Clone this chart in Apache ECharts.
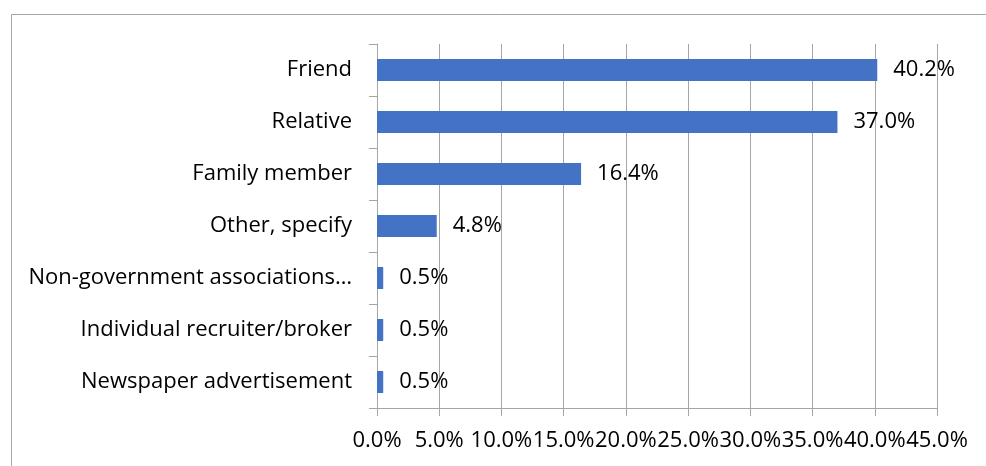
<!DOCTYPE html>
<html>
<head>
<meta charset="utf-8">
<script src="https://cdn.jsdelivr.net/npm/echarts@6/dist/echarts.min.js"></script>
<style>
html, body { margin: 0; padding: 0; background: #fff; }
#main { width: 986px; height: 466px; }
</style>
</head>
<body>
<div id="main"></div>
<script>
// sources of job information, share of respondents (%)
var categories = [
	'Friend',
	'Relative',
	'Family member',
	'Other, specify',
	'Non-government associations…',
	'Individual recruiter/broker',
	'Newspaper advertisement'
];
var shares = [40.2, 37.0, 16.4, 4.8, 0.5, 0.5, 0.5];
var tickMin = 0, tickMax = 45, tickStep = 5;

var FONT = '"Open Sans", sans-serif';
var GRID_GRAY = '#a6a6a6';

var myChart = echarts.init(document.getElementById('main'));
var option = {
	animation: false,
	textStyle: { fontFamily: FONT },
	graphic: [{
		type: 'rect',
		shape: { x: 11.5, y: 14.5, width: 1200, height: 800 },
		style: { fill: 'none', stroke: GRID_GRAY, lineWidth: 1 },
		silent: true
	}],
	grid: { left: 377, right: 49, top: 44, bottom: 58, containLabel: false },
	xAxis: {
		type: 'value',
		min: tickMin,
		max: tickMax,
		interval: tickStep,
		axisLine: { show: true, lineStyle: { color: GRID_GRAY } },
		axisTick: { show: true, length: 8, lineStyle: { color: GRID_GRAY } },
		splitLine: { show: true, lineStyle: { color: GRID_GRAY } },
		axisLabel: {
			margin: 22,
			fontSize: 22,
			color: '#000',
			fontFamily: FONT,
			hideOverlap: false,
			formatter: function (v) { return v.toFixed(1) + '%'; }
		}
	},
	yAxis: {
		type: 'category',
		inverse: true,
		data: categories,
		axisLine: { show: true, lineStyle: { color: GRID_GRAY } },
		axisTick: { show: true, length: 8, lineStyle: { color: GRID_GRAY } },
		axisLabel: { margin: 25, fontSize: 22, color: '#000', fontFamily: FONT }
	},
	series: [{
		type: 'bar',
		data: shares,
		barWidth: 22,
		itemStyle: { color: '#4472c4' },
		label: {
			show: true,
			position: 'right',
			distance: 16,
			fontSize: 22,
			color: '#000',
			fontFamily: FONT,
			formatter: function (p) { return p.value.toFixed(1) + '%'; }
		}
	}]
};
myChart.setOption(option);
</script>
</body>
</html>
